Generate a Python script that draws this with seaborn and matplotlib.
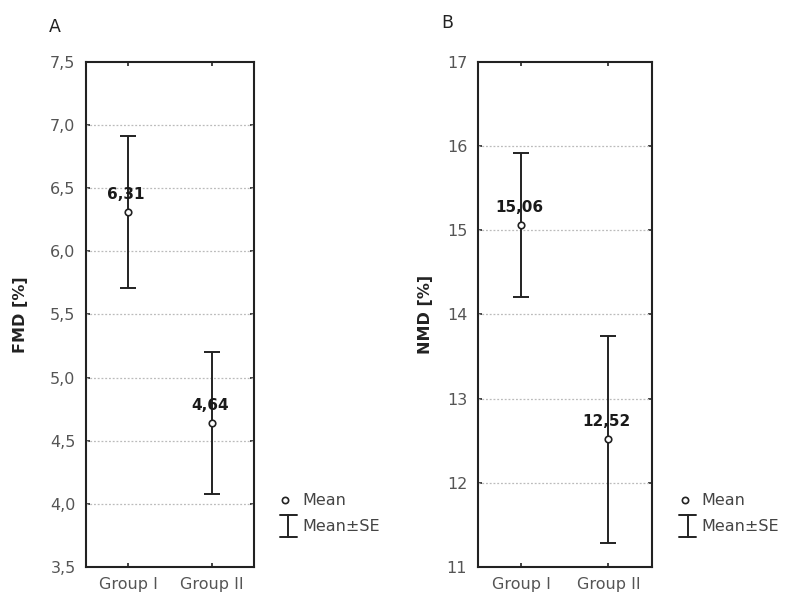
import matplotlib
matplotlib.use("Agg")
import matplotlib.pyplot as plt
from matplotlib.lines import Line2D
from matplotlib.legend_handler import HandlerBase
import seaborn as sns
import pandas as pd

groups = ["Group I", "Group II"]
fmd_mean = [6.31, 4.64]
fmd_se = [0.60, 0.565]
nmd_mean = [15.06, 12.52]
nmd_se = [0.855, 1.23]

fmd_ticks = [3.5, 4.0, 4.5, 5.0, 5.5, 6.0, 6.5, 7.0, 7.5]
nmd_ticks = [11, 12, 13, 14, 15, 16, 17]

sns.set_theme(style="white")
plt.rcParams['font.family'] = ['DejaVu Sans']

INK = "#222222"
TICK = "#555555"


class IBeam:
    pass


class HandlerIBeam(HandlerBase):
    def create_artists(self, legend, orig_handle, xdescent, ydescent, width,
                       height, fontsize, trans):
        cx = width / 2 - xdescent + 2
        cy = height / 2 - ydescent
        half = 7.8
        y0, y1 = cy - half, cy + half
        hw = 6
        kw = dict(color=INK, linewidth=1.4, transform=trans)
        return [Line2D([cx, cx], [y0, y1], **kw),
                Line2D([cx - hw, cx + hw], [y0, y0], **kw),
                Line2D([cx - hw, cx + hw], [y1, y1], **kw)]


fig = plt.figure(figsize=(8, 6.13), dpi=100)
axA = fig.add_axes([0.1075, 0.075, 0.21, 0.824])
axB = fig.add_axes([0.597, 0.075, 0.218, 0.824])


def fmt(v, dec):
    return (f"{v:.{dec}f}").replace(".", ",")


def panel(ax, means, ses, ticks, dec, ylabel, letter, lx, ly, labx, legx):
    df = pd.DataFrame({"group": groups, "mean": means, "se": ses})
    ax.errorbar(range(len(groups)), df["mean"], yerr=df["se"], fmt="none",
                ecolor=INK, elinewidth=1.4, capsize=6, capthick=1.4, zorder=2)
    sns.scatterplot(data=df, x="group", y="mean", ax=ax, marker="o", s=22,
                    facecolor="white", edgecolor=INK, linewidth=1.2, zorder=3)
    for i, m in enumerate(means):
        ax.annotate(fmt(m, 2), (i, m), xytext=(-1.5, 12.5), textcoords="offset points",
                    ha="center", va="center", fontsize=11, fontweight="bold",
                    color="#1a1a1a", zorder=4)
    ax.set_xlim(-0.5, 1.5)
    ax.set_ylim(ticks[0], ticks[-1])
    ax.set_yticks(ticks)
    ax.set_yticklabels([fmt(t, dec) for t in ticks], color=TICK, fontsize=11.5)
    ax.set_xticks(range(len(groups)))
    ax.set_xticklabels(groups, color=TICK, fontsize=11.5)
    ax.set_xlabel("")
    ax.set_ylabel(ylabel, fontsize=11.5, fontweight="bold", color=INK)
    ax.yaxis.set_label_coords(labx, 0.5)
    for t in ticks[1:-1]:
        ax.axhline(t, color="#bbbbbb", linestyle=(0, (1.5, 1.5)), linewidth=0.9, zorder=1)
    for s in ax.spines.values():
        s.set_visible(True)
        s.set_color(INK)
        s.set_linewidth(1.5)
    ax.tick_params(axis="y", direction="in", left=True, right=True, length=3,
                   width=1.2, color=INK, pad=7.5)
    ax.tick_params(axis="x", direction="in", bottom=True, top=True, length=3,
                   width=1.2, color=INK, pad=7)
    handles = [
        Line2D([], [], marker="o", linestyle="none", markersize=4.5,
               markerfacecolor="white", markeredgecolor=INK, markeredgewidth=1.2),
        IBeam(),
    ]
    ax.legend(handles, ["Mean", "Mean±SE"], loc="upper left",
              handler_map={IBeam: HandlerIBeam()},
              bbox_to_anchor=(legx, 0.146), frameon=False, fontsize=11.5,
              labelcolor="#444444", handlelength=1.2, handletextpad=0.45,
              labelspacing=0.7, borderaxespad=0, borderpad=0)
    fig.text(lx, ly, letter, fontsize=12.5, color=INK, ha="center", va="center")


panel(axA, fmd_mean, fmd_se, fmd_ticks, 1, "FMD [%]", "A", 55 / 800, 1 - 27 / 613, -0.345, 1.13)
panel(axB, nmd_mean, nmd_se, nmd_ticks, 0, "NMD [%]", "B", 447 / 800, 1 - 23 / 613, -0.256, 1.134)

fig.savefig("out.png", dpi=100)
